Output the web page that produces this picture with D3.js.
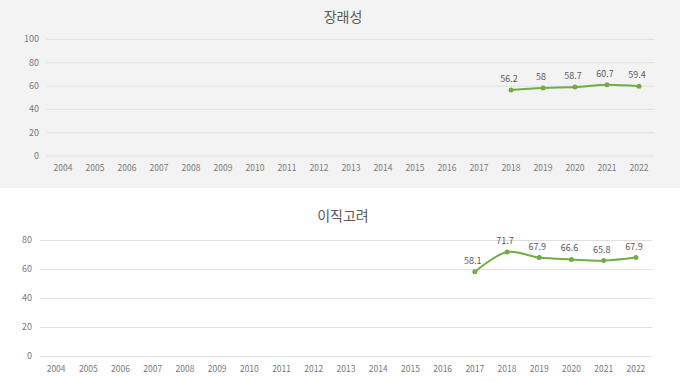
<!DOCTYPE html>
<html><head><meta charset="utf-8">
<script src="https://cdn.jsdelivr.net/npm/d3@7"></script>
<style>
html,body{margin:0;padding:0;background:#fff;}
svg{display:block;font-family:"Noto Sans CJK KR","Noto Sans",sans-serif;}
</style></head>
<body><svg id="c" width="680" height="382"></svg>
<script>
const years = ["2004","2005","2006","2007","2008","2009","2010","2011","2012","2013","2014","2015","2016","2017","2018","2019","2020","2021","2022"];
const title1 = "장래성";
const years1 = ["2018","2019","2020","2021","2022"];
const values1 = [56.2, 58, 58.7, 60.7, 59.4];
const ticks1 = [0, 20, 40, 60, 80, 100];
const title2 = "이직고려";
const years2 = ["2017","2018","2019","2020","2021","2022"];
const values2 = [58.1, 71.7, 67.9, 66.6, 65.8, 67.9];
const ticks2 = [0, 20, 40, 60, 80];

const svg = d3.select("#c");
const green = "#70ad47", txt = "#595959", axTxt = "#7a7a7a", grid = "#e0e0e0";

function panel(cfg) {
  const g = svg.append("g");
  if (cfg.bg) g.append("rect").attr("x", 0).attr("y", cfg.top).attr("width", 680).attr("height", cfg.h).attr("fill", cfg.bg);
  g.append("text").attr("x", 343).attr("y", cfg.titleY).attr("text-anchor", "middle")
    .attr("font-size", 14).attr("fill", txt).text(cfg.title);
  const x = d3.scaleBand().domain(years).range(cfg.xr);
  const y = d3.scaleLinear().domain([0, d3.max(cfg.ticks)]).range(cfg.yr);
  const yAxis = g.append("g").attr("transform", `translate(${cfg.xr[0]},0)`)
    .call(d3.axisLeft(y).tickValues(cfg.ticks).tickSize(-(cfg.xr[1] - cfg.xr[0])).tickPadding(cfg.pad));
  yAxis.select(".domain").remove();
  yAxis.selectAll("line").attr("stroke", grid);
  yAxis.selectAll("text").attr("fill", axTxt).attr("font-size", 9).attr("font-family", "Noto Sans CJK KR, Noto Sans, sans-serif");
  const xAxis = g.append("g").attr("transform", `translate(0,${cfg.yr[0]})`)
    .call(d3.axisBottom(x).tickSize(0).tickPadding(cfg.xpad));
  xAxis.select(".domain").remove();
  xAxis.selectAll("text").attr("fill", axTxt).attr("font-size", 8.5).attr("font-family", "Noto Sans CJK KR, Noto Sans, sans-serif");
  const pts = cfg.years.map((yr, i) => ({x: x(yr) + x.bandwidth() / 2, y: y(cfg.values[i]), v: cfg.values[i]}));
  g.append("path").datum(pts).attr("fill", "none").attr("stroke", green).attr("stroke-width", 2)
    .attr("d", d3.line().x(d => d.x).y(d => d.y).curve(d3.curveCatmullRom.alpha(0.5)));
  g.selectAll("circle.p").data(pts).join("circle").attr("cx", d => d.x).attr("cy", d => d.y).attr("r", 2.5).attr("fill", green);
  g.selectAll("text.l").data(pts).join("text").attr("x", d => d.x - 2).attr("y", d => d.y - 8)
    .attr("text-anchor", "middle").attr("font-size", 9).attr("fill", txt).text(d => d.v);
}

panel({top: 0, h: 188, bg: "#f3f3f3", title: title1, titleY: 22, xr: [47, 655], yr: [155.5, 39],
  ticks: ticks1, years: years1, values: values1, pad: 8, xpad: 9});
panel({top: 188, h: 194, bg: null, title: title2, titleY: 221, xr: [40, 652], yr: [356, 240],
  ticks: ticks2, years: years2, values: values2, pad: 8, xpad: 10});
</script></body></html>
